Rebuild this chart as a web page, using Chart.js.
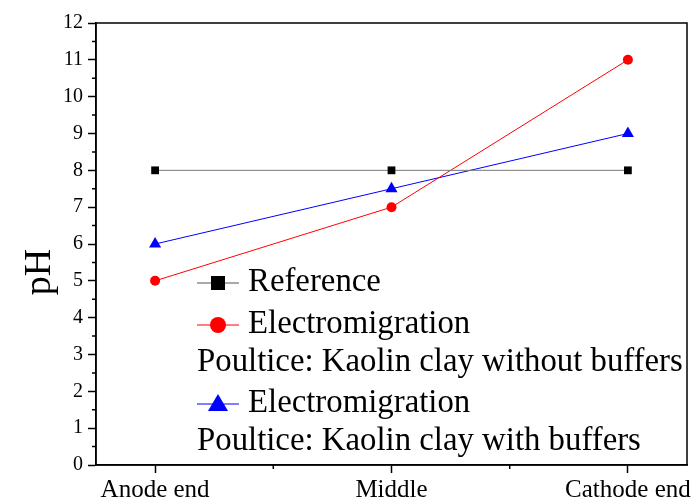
<!DOCTYPE html>
<html><head><meta charset="utf-8">
<script src="https://cdn.jsdelivr.net/npm/chart.js@4/dist/chart.umd.min.js"></script>
<style>html,body{margin:0;padding:0;background:#fff}#wrap{width:694px;height:504px}</style>
</head><body><div id="wrap"><canvas id="c" width="694" height="504"></canvas></div>
<script>
const categories = ["Anode end", "Middle", "Cathode end"];
const referencePH = [8, 8, 8];
const noBufferPH = [5, 7, 11];
const withBufferPH = [6, 7.5, 9];
const yTicks = [0,1,2,3,4,5,6,7,8,9,10,11,12];
const legendLines = [
  {text:"Reference", marker:"rect", color:"#000000", line:"#555555"},
  {text:"Electromigration", marker:"circle", color:"#ff0000", line:"#ff0000"},
  {text:"Poultice: Kaolin clay without buffers"},
  {text:"Electromigration", marker:"triangle", color:"#0000ff", line:"#0000ff"},
  {text:"Poultice: Kaolin clay with buffers"}
];
const FONT = "'Liberation Serif','Times New Roman',serif";
const toXY = arr => arr.map((v,i)=>({x:i,y:v}));

const framePlugin = {
  id:'frame',
  afterDraw(chart){
    const {ctx, chartArea:a, scales} = chart;
    ctx.save();
    ctx.strokeStyle = '#000'; ctx.lineWidth = 1.5;
    ctx.strokeRect(a.left, a.top, a.right-a.left, a.bottom-a.top);
    ctx.beginPath();
    for (let v=0.5; v<12; v+=1){ const y=scales.y.getPixelForValue(v); ctx.moveTo(a.left-4,y); ctx.lineTo(a.left,y); }
    for (let v=0.5; v<2; v+=1){ const x=scales.x.getPixelForValue(v); ctx.moveTo(x,a.bottom); ctx.lineTo(x,a.bottom+4); }
    ctx.stroke();
    ctx.fillStyle='#000';
    ctx.font = "38px "+FONT;
    ctx.translate(40, 272); ctx.rotate(-Math.PI/2);
    ctx.textAlign='center'; ctx.textBaseline='middle';
    ctx.fillText('pH',0,0);
    ctx.restore();
    ctx.save();
    ctx.font = "32.8px "+FONT;
    ctx.textBaseline='alphabetic'; ctx.textAlign='left';
    const baselines=[291,333,371,412,450];
    legendLines.forEach((l,i)=>{
      const b=baselines[i];
      if (l.marker){
        const ly=b-8;
        ctx.strokeStyle=l.line; ctx.lineWidth=1;
        ctx.beginPath(); ctx.moveTo(197,ly); ctx.lineTo(239,ly); ctx.stroke();
        ctx.fillStyle=l.color;
        const cx=218;
        if (l.marker==='rect'){ ctx.fillRect(cx-7,ly-7,14,14); }
        else if (l.marker==='circle'){ ctx.beginPath(); ctx.arc(cx,ly,8,0,Math.PI*2); ctx.fill(); }
        else { ctx.beginPath(); ctx.moveTo(cx,ly-10); ctx.lineTo(cx+10,ly+7); ctx.lineTo(cx-10,ly+7); ctx.closePath(); ctx.fill(); }
        ctx.fillStyle='#000';
        ctx.fillText(l.text,248,b);
      } else {
        ctx.fillStyle='#000';
        ctx.fillText(l.text,197,b);
      }
    });
    ctx.restore();
  }
};

new Chart(document.getElementById('c'), {
  type:'line',
  data:{datasets:[
    {label:'Reference', data:toXY(referencePH), borderColor:'#777777', borderWidth:1, pointStyle:'rect', pointRadius:5.5, pointBackgroundColor:'#000', pointBorderColor:'#000', pointBorderWidth:0},
    {label:'Electromigration without buffers', data:toXY(noBufferPH), borderColor:'#ff0000', borderWidth:1, pointStyle:'circle', pointRadius:5, pointBackgroundColor:'#ff0000', pointBorderColor:'#ff0000', pointBorderWidth:0},
    {label:'Electromigration with buffers', data:toXY(withBufferPH), borderColor:'#0000ff', borderWidth:1, pointStyle:'triangle', pointRadius:7, pointBackgroundColor:'#0000ff', pointBorderColor:'#0000ff', pointBorderWidth:0}
  ]},
  options:{
    responsive:false, animation:false, devicePixelRatio:1,
    layout:{padding:{top:23,right:6,left:0,bottom:0}},
    plugins:{legend:{display:false}, tooltip:{enabled:false}},
    scales:{
      x:{type:'linear', min:-0.25, max:2.25,
        afterBuildTicks(s){ s.ticks = categories.map((c,i)=>({value:i})); },
        afterFit(s){ s.height = 39; },
        ticks:{callback:(v)=>categories[v], color:'#000', font:{family:FONT,size:25}, padding:2, maxRotation:0, autoSkip:false},
        grid:{drawOnChartArea:false, tickLength:8, tickColor:'#000', tickWidth:1.5},
        border:{color:'#000', width:1.5}
      },
      y:{type:'linear', min:0, max:12,
        afterBuildTicks(s){ s.ticks = yTicks.map(v=>({value:v})); },
        afterFit(s){ s.width = 96; },
        ticks:{color:'#000', font:{family:FONT,size:20}, padding:5, autoSkip:false},
        grid:{drawOnChartArea:false, tickLength:8, tickColor:'#000', tickWidth:1.5},
        border:{color:'#000', width:1.5}
      }
    }
  },
  plugins:[framePlugin]
});
</script></body></html>
